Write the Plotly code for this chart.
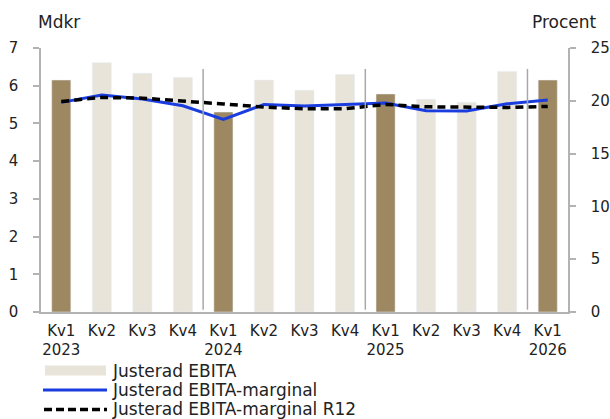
import plotly.graph_objects as go

# Quarterly data
quarters = ["Kv1", "Kv2", "Kv3", "Kv4", "Kv1", "Kv2", "Kv3", "Kv4",
            "Kv1", "Kv2", "Kv3", "Kv4", "Kv1"]
years = ["2023", "", "", "", "2024", "", "", "", "2025", "", "", "", "2026"]
ebita = [6.15, 6.61, 6.33, 6.22, 5.30, 6.15, 5.88, 6.30, 5.78, 5.64, 5.56, 6.38, 6.15]   # Mdkr
marginal = [19.85, 20.55, 20.16, 19.53, 18.24, 19.66, 19.50, 19.62, 19.78, 19.06, 19.03, 19.72, 20.07]  # %
marginal_r12 = [19.94, 20.32, 20.25, 20.00, 19.70, 19.40, 19.25, 19.25, 19.66, 19.43, 19.37, 19.37, 19.47]  # %

legend_labels = ["Justerad EBITA", "Justerad EBITA-marginal", "Justerad EBITA-marginal R12"]

DARK = "#9d8862"
LIGHT = "#e8e4da"
BLUE = "#1a3de0"
GRID = "#b3b3b3"
FONT = "DejaVu Sans"

x = list(range(len(quarters)))
ticktext = [q + ("<br>" + y if y else "<br> ") for q, y in zip(quarters, years)]

first_q = [v if q == "Kv1" else None for q, v in zip(quarters, ebita)]
other_q = [v if q != "Kv1" else None for q, v in zip(quarters, ebita)]

fig = go.Figure()
fig.add_trace(go.Bar(x=x, y=other_q, marker_color=LIGHT, width=0.47, showlegend=False))
fig.add_trace(go.Bar(x=x, y=first_q, marker_color=DARK, width=0.47, showlegend=False))
fig.add_trace(go.Scatter(x=x, y=marginal, yaxis="y2", mode="lines",
                         line=dict(color=BLUE, width=3), showlegend=False))
fig.add_trace(go.Scatter(x=x, y=marginal_r12, yaxis="y2", mode="lines",
                         line=dict(color="black", width=3.5, dash="8px,5px"), showlegend=False))

# plot area in pixels
W, H = 610, 419
L, R, T, B = 41, 568, 47.5, 312.3


def px(xp):
    return (xp - L) / (R - L)


def py(yp):
    return (B - yp) / (B - T)


shapes = []
# year separators
for i in range(1, len(quarters)):
    if quarters[i] == "Kv1":
        shapes.append(dict(type="line", xref="x", yref="paper", x0=i - 0.5, x1=i - 0.5,
                           y0=py(310), y1=py(68.5), line=dict(color="#a8a8a8", width=1.5)))

# legend swatches
rows = [371, 390.5, 410]
shapes.append(dict(type="rect", xref="paper", yref="paper", x0=px(45), x1=px(106),
                   y0=py(376), y1=py(366), fillcolor=LIGHT, line=dict(width=0)))
shapes.append(dict(type="line", xref="paper", yref="paper", x0=px(43), x1=px(107),
                   y0=py(rows[1]), y1=py(rows[1]), line=dict(color=BLUE, width=3)))
shapes.append(dict(type="line", xref="paper", yref="paper", x0=px(44), x1=px(107),
                   y0=py(rows[2]), y1=py(rows[2]), line=dict(color="black", width=3.5, dash="8px,4px")))

annotations = [
    dict(text="Mdkr", xref="paper", yref="paper", x=px(36), y=py(21), xanchor="left",
         yanchor="middle", showarrow=False, font=dict(family=FONT, size=17, color="#222")),
    dict(text="Procent", xref="paper", yref="paper", x=px(599), y=py(21), xanchor="right",
         yanchor="middle", showarrow=False, font=dict(family=FONT, size=17, color="#222")),
]
for label, yr in zip(legend_labels, rows):
    annotations.append(dict(text=label, xref="paper", yref="paper", x=px(110), y=py(yr),
                            xanchor="left", yanchor="middle", showarrow=False,
                            font=dict(family=FONT, size=17, color="#222")))

fig.update_layout(
    width=W, height=H,
    margin=dict(l=L, r=W - R, t=T, b=H - B, autoexpand=False),
    paper_bgcolor="white", plot_bgcolor="white",
    barmode="overlay",
    font=dict(family=FONT, size=15, color="#222"),
    xaxis=dict(range=[-0.5, len(quarters) - 0.5], tickmode="array", tickvals=x, ticktext=ticktext,
               showline=True, linecolor=GRID, linewidth=1.5, ticks="", showgrid=False,
               zeroline=False, tickfont=dict(size=15), ticklabelstandoff=4, automargin=False),
    yaxis=dict(range=[0, 7], dtick=1, showline=True, linecolor=GRID, linewidth=1.5,
               ticks="outside", ticklen=6, tickcolor=GRID, tickwidth=1.5, showgrid=False,
               zeroline=False, tickfont=dict(size=15), ticklabelstandoff=12, automargin=False),
    yaxis2=dict(range=[0, 25], dtick=5, overlaying="y", side="right", showline=True,
                linecolor=GRID, linewidth=1.5, ticks="outside", ticklen=6, tickcolor=GRID,
                tickwidth=1.5, showgrid=False, zeroline=False, tickfont=dict(size=15),
                ticklabelstandoff=12, automargin=False),
    shapes=shapes,
    annotations=annotations,
)

fig.write_html("out.html")
